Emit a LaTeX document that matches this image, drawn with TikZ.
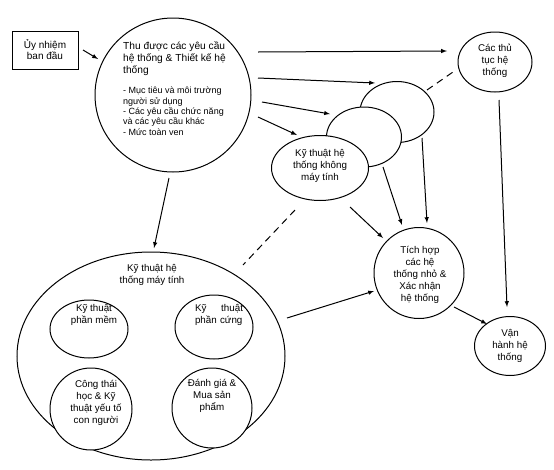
\documentclass[tikz,border=0pt]{standalone}
\usepackage{fontspec}
\setmainfont{Liberation Sans}
\usepackage{tikz}
\usetikzlibrary{calc}
\usetikzlibrary{positioning}
\usetikzlibrary{shapes.geometric}
\tikzstyle{stagenode} = [draw, ellipse, fill=white, line width=1pt, inner sep=0pt]
\tikzstyle{boxnode} = [draw, rectangle, line width=1pt, minimum width=66pt, minimum height=38pt, align=center, font=\fontsize{10}{11}\selectfont]
\tikzstyle{stagetext} = [align=center, inner sep=0pt, font=\fontsize{9.8}{11.8}\selectfont]
\tikzstyle{flow} = [->, >=latex, line width=1pt]
\tikzstyle{link} = [line width=1pt, dash pattern=on 7pt off 5pt]

\begin{document}
\begin{tikzpicture}[x=1pt, y=-1pt]
\useasboundingbox (0,0) rectangle (554,469);
% start box and the requirements circle
\node[boxnode] (mandate) at (45,50) {Ủy nhiệm\\ban đầu};
\node[stagenode, minimum width=156pt, minimum height=154pt] (reqs) at (173,95) {};
\node[anchor=north west, inner sep=0pt, align=left, font=\fontsize{10.2}{12}\selectfont] (reqs_title) at (123,41) {Thu được các yêu cầu\\hệ thống \& Thiết kế hệ\\thống};
\node[anchor=north west, inner sep=0pt, align=left, font=\fontsize{9}{10.3}\selectfont] (reqs_list) at (123,87) {- Mục tiêu và môi trường\\người sử dụng\\- Các yêu cầu chức năng\\và các yêu cầu khác\\- Mức toàn ven};

% procedures and the stacked subsystem ellipses
\node[stagenode, minimum width=74pt, minimum height=60pt] (procs) at (495,62) {};
\node[stagetext] (procs_text) at (495,61) {Các thủ\\tục hệ\\thống};
\node[stagenode, minimum width=74pt, minimum height=61pt] (sub_back) at (397,112) {};
\node[stagenode, minimum width=75pt, minimum height=60pt] (sub_mid) at (364,137) {};
\node[stagenode, minimum width=97pt, minimum height=65pt] (sub_front) at (320,168) {};
\node[stagetext] (sub_front_text) at (320,166) {Kỹ thuật hệ\\thống không\\máy tính};

% integration and operation
\node[stagenode, minimum width=90pt, minimum height=91pt] (integ) at (419,273) {};
\node[stagetext] (integ_text) at (420,275) {Tích hợp\\các hệ\\thống nhỏ \&\\Xác nhận\\hệ thống};
\node[stagenode, minimum width=71pt, minimum height=59pt] (oper) at (510,346) {};
\node[stagetext] (oper_text) at (510,346) {Vận\\hành hệ\\thống};

% computer system engineering
\node[stagenode, minimum width=268pt, minimum height=208pt] (comp) at (151,356) {};
\node[stagetext] (comp_text) at (152,275) {Kỹ thuật hệ\\thống máy tính};
\node[stagenode, minimum width=78pt, minimum height=58pt] (soft) at (89,329) {};
\node[stagetext] (soft_text) at (94,315) {Kỹ thuật\\phần mềm};
\node[stagenode, minimum width=78pt, minimum height=64pt] (hard) at (214,327) {};
\node[stagetext, text width=48pt, align=left] (hard_text) at (219,315) {Kỹ\hfill thuật\\phần cứng};
\node[stagenode, minimum width=82pt, minimum height=82pt] (human) at (91,409) {};
\node[stagetext] (human_text) at (96,403) {Công thái\\học \& Kỹ\\thuật yếu tố\\con người};
\node[stagenode, minimum width=80pt, minimum height=80pt] (eval) at (212,408) {};
\node[stagetext] (eval_text) at (212,396) {Đánh giá \&\\Mua sản\\phẩm};

% connectors
\draw[flow] ($(mandate)+(38,0)$) -- ($(reqs)+(-75,-36)$);
\draw[flow] ($(reqs)+(85,-43)$) -- ($(procs)+(-48,-11)$);
\draw[flow] ($(reqs)+(85,-17)$) -- ($(sub_back)+(-22,-29)$);
\draw[flow] ($(reqs)+(89,7)$) -- ($(sub_mid)+(-34,-23)$);
\draw[flow] ($(reqs)+(85,22)$) -- ($(sub_front)+(-23,-33)$);
\draw[flow] ($(reqs)+(-4,83)$) -- ($(comp)+(3,-108)$);
\draw[link] ($(sub_back)+(30,-22)$) -- ($(procs)+(-42,10)$);
\draw[link] ($(sub_front)+(-25,42)$) -- ($(comp)+(92,-91)$);
\draw[flow] ($(procs)+(4,38)$) -- ($(oper)+(-3,-39)$);
\draw[flow] ($(sub_back)+(25,26)$) -- ($(integ)+(8,-50)$);
\draw[flow] ($(sub_mid)+(19,30)$) -- ($(integ)+(-17,-48)$);
\draw[flow] ($(sub_front)+(30,39)$) -- ($(integ)+(-36,-35)$);
\draw[flow] ($(comp)+(136,-38)$) -- ($(integ)+(-45,18)$);
\draw[flow] ($(integ)+(35,34)$) -- ($(oper)+(-23,-22)$);
\end{tikzpicture}
\end{document}
